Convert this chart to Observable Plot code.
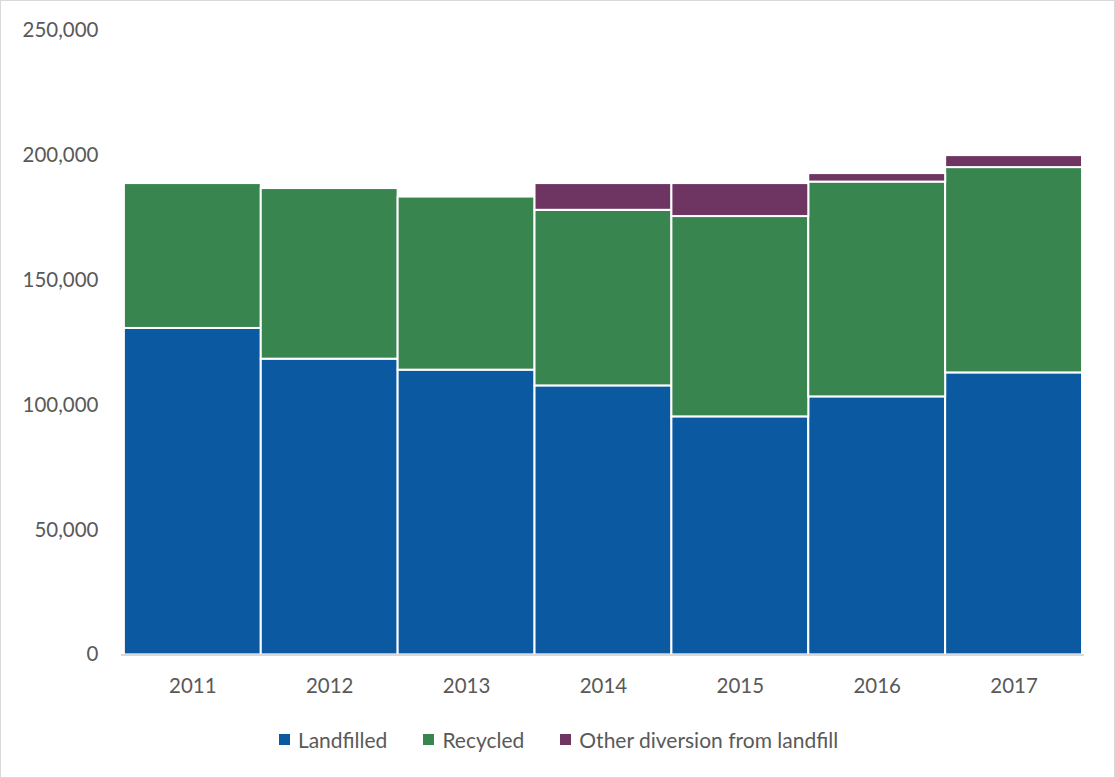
<!DOCTYPE html>
<html>
<head>
<meta charset="utf-8">
<script src="https://cdn.jsdelivr.net/npm/d3@7"></script>
<script src="https://cdn.jsdelivr.net/npm/@observablehq/plot@0.6"></script>
<style>
  html, body { margin: 0; padding: 0; background: #fff; }
  #wrap { position: relative; width: 1115px; height: 778px; box-sizing: border-box; border: 1px solid #d9d9d9; font-family: Lato, "Open Sans", sans-serif; }
  #chart { position: absolute; left: -1px; top: -1px; }
  #legend { position: absolute; top: 726px; left: 0; width: 1115px; display: flex; justify-content: center; gap: 36px; font-size: 21px; color: #595959; }
  #legend .item { display: flex; align-items: center; gap: 8px; }
  #legend .sw { width: 11px; height: 11px; display: inline-block; }
</style>
</head>
<body>
<div id="wrap">
  <div id="chart"></div>
  <div id="legend"></div>
</div>
<script>
const years = ["2011", "2012", "2013", "2014", "2015", "2016", "2017"];
const seriesNames = ["Landfilled", "Recycled", "Other diversion from landfill"];
const colors = ["#0B5AA1", "#38854F", "#6E3563"];
const landfilled = [130700, 118400, 114000, 107700, 95300, 103300, 112900];
const recycled = [58000, 68300, 69300, 70300, 80200, 86000, 82200];
const otherDiversion = [0, 0, 0, 10700, 13200, 3400, 4800];
const yTicks = [0, 50000, 100000, 150000, 200000, 250000];

const seriesValues = [landfilled, recycled, otherDiversion];
const data = [];
seriesNames.forEach((s, si) => {
  years.forEach((y, yi) => data.push({year: y, series: s, order: si, value: seriesValues[si][yi]}));
});

const plot = Plot.plot({
  width: 1115,
  height: 700,
  marginLeft: 121,
  marginRight: 30,
  marginTop: 30,
  marginBottom: 45,
  style: {fontFamily: "Lato, 'Open Sans', sans-serif", fontSize: "20.5px", color: "#595959", background: "transparent"},
  x: {domain: years, padding: 0, label: null, tickSize: 0, tickPadding: 24},
  y: {domain: [0, 250000], label: null, ticks: yTicks, tickSize: 0, tickPadding: 23, tickFormat: d3.format(",")},
  color: {domain: seriesNames, range: colors},
  marks: [
    Plot.gridY(yTicks, {stroke: "#d9d9d9", strokeOpacity: 1, strokeWidth: 2, x1: 118, x2: 1085}),
    Plot.barY(data, Plot.stackY({order: "order"}, {x: "year", y: "value", fill: "series", stroke: "white", strokeWidth: 2})),
    Plot.ruleY([0], {stroke: "#d9d9d9", strokeWidth: 2})
  ]
});
document.getElementById("chart").appendChild(plot);

const legend = document.getElementById("legend");
seriesNames.forEach((s, i) => {
  const it = document.createElement("div");
  it.className = "item";
  const sw = document.createElement("span");
  sw.className = "sw";
  sw.style.background = colors[i];
  const t = document.createElement("span");
  t.textContent = s;
  it.appendChild(sw); it.appendChild(t);
  legend.appendChild(it);
});
</script>
</body>
</html>
